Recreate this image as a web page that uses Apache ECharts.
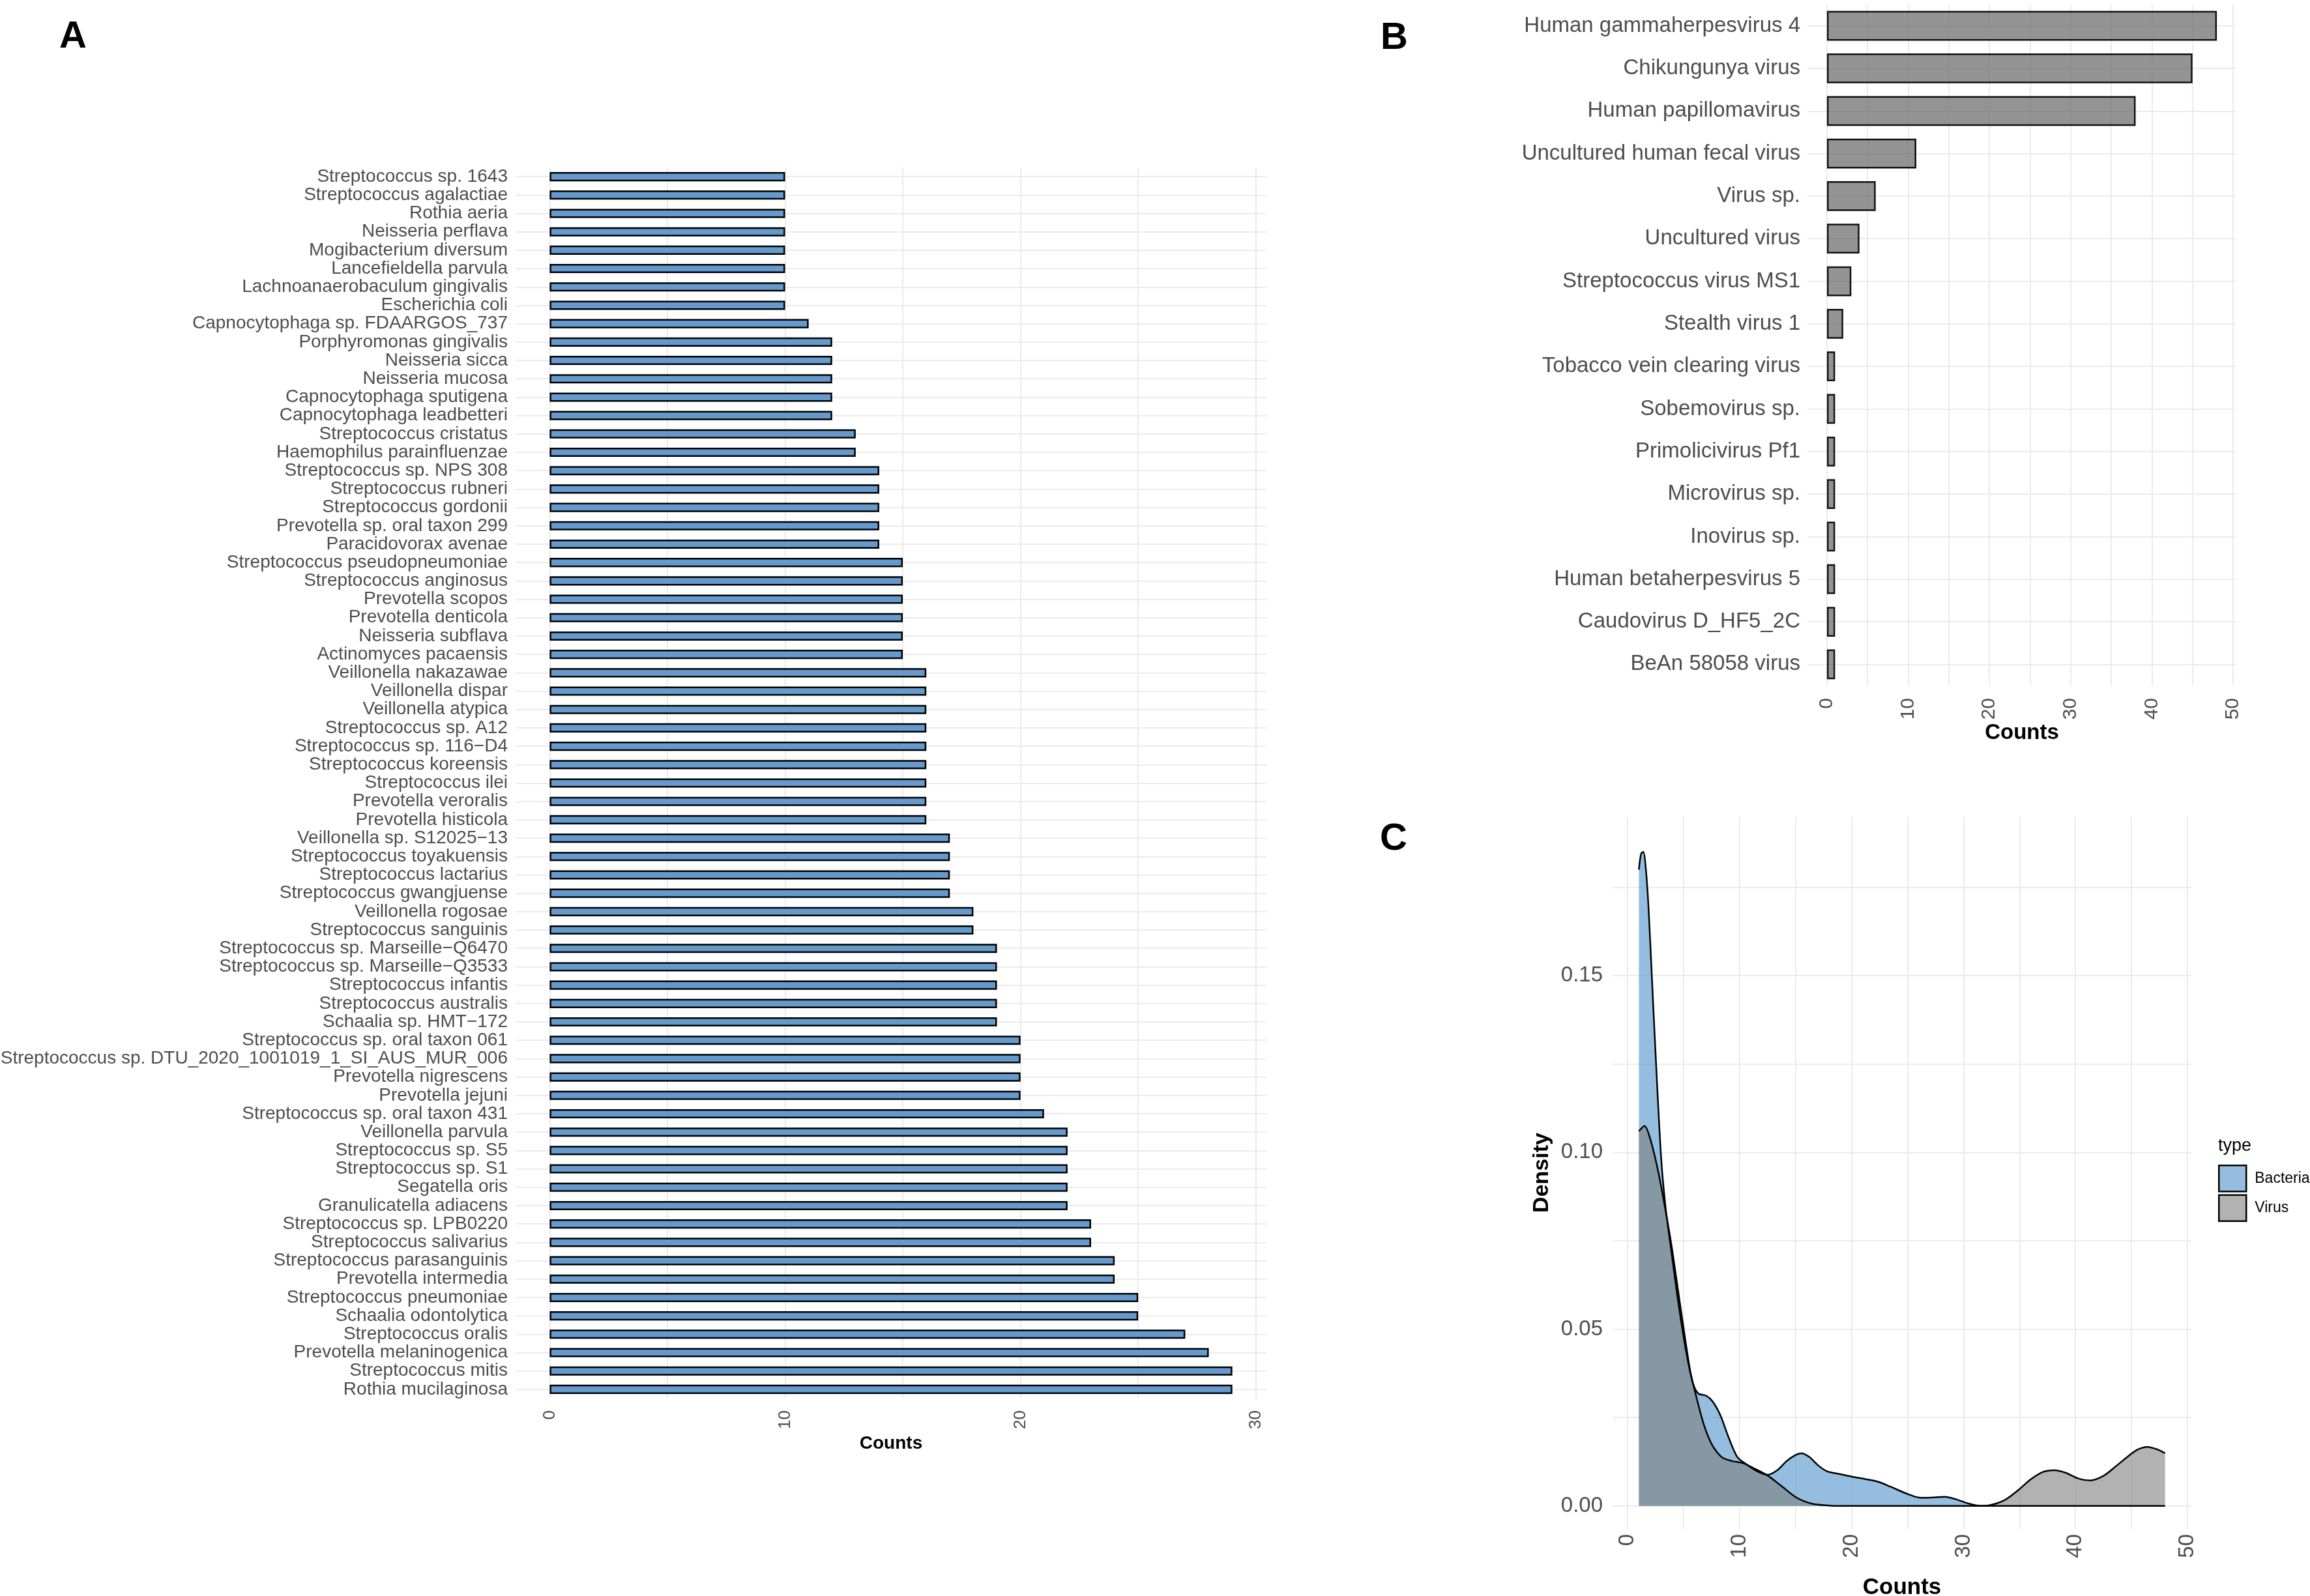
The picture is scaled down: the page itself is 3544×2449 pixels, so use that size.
<!DOCTYPE html>
<html>
<head>
<meta charset="utf-8">
<script src="https://cdn.jsdelivr.net/npm/echarts@6/dist/echarts.min.js"></script>
<style>
html,body{margin:0;padding:0;background:#fff;}
#chart{width:3544px;height:2449px;}
</style>
</head>
<body>
<div id="chart"></div>
<script>
// ---------- Panel A: bacteria counts ----------
const aNames = [
"Streptococcus sp. 1643","Streptococcus agalactiae","Rothia aeria","Neisseria perflava","Mogibacterium diversum",
"Lancefieldella parvula","Lachnoanaerobaculum gingivalis","Escherichia coli","Capnocytophaga sp. FDAARGOS_737",
"Porphyromonas gingivalis","Neisseria sicca","Neisseria mucosa","Capnocytophaga sputigena","Capnocytophaga leadbetteri",
"Streptococcus cristatus","Haemophilus parainfluenzae","Streptococcus sp. NPS 308","Streptococcus rubneri",
"Streptococcus gordonii","Prevotella sp. oral taxon 299","Paracidovorax avenae","Streptococcus pseudopneumoniae",
"Streptococcus anginosus","Prevotella scopos","Prevotella denticola","Neisseria subflava","Actinomyces pacaensis",
"Veillonella nakazawae","Veillonella dispar","Veillonella atypica","Streptococcus sp. A12","Streptococcus sp. 116\u2212D4",
"Streptococcus koreensis","Streptococcus ilei","Prevotella veroralis","Prevotella histicola","Veillonella sp. S12025\u221213",
"Streptococcus toyakuensis","Streptococcus lactarius","Streptococcus gwangjuense","Veillonella rogosae",
"Streptococcus sanguinis","Streptococcus sp. Marseille\u2212Q6470","Streptococcus sp. Marseille\u2212Q3533",
"Streptococcus infantis","Streptococcus australis","Schaalia sp. HMT\u2212172","Streptococcus sp. oral taxon 061",
"Streptococcus sp. DTU_2020_1001019_1_SI_AUS_MUR_006","Prevotella nigrescens","Prevotella jejuni",
"Streptococcus sp. oral taxon 431","Veillonella parvula","Streptococcus sp. S5","Streptococcus sp. S1","Segatella oris",
"Granulicatella adiacens","Streptococcus sp. LPB0220","Streptococcus salivarius","Streptococcus parasanguinis",
"Prevotella intermedia","Streptococcus pneumoniae","Schaalia odontolytica","Streptococcus oralis",
"Prevotella melaninogenica","Streptococcus mitis","Rothia mucilaginosa"
];
const aValues = [
10,10,10,10,10,10,10,10,11,
12,12,12,12,12,
13,13,14,14,14,14,14,
15,15,15,15,15,15,
16,16,16,16,16,16,16,16,16,
17,17,17,17,18,18,
19,19,19,19,19,
20,20,20,20,21,
22,22,22,22,22,
23,23,24,24,25,25,27,28,29,29
];
const aTicks = [0,10,20,30];
const aGridLines = [0,5,10,15,20,25,30];

// ---------- Panel B: virus counts ----------
const bNames = [
"Human gammaherpesvirus 4","Chikungunya virus","Human papillomavirus","Uncultured human fecal virus",
"Virus sp.","Uncultured virus","Streptococcus virus MS1","Stealth virus 1","Tobacco vein clearing virus",
"Sobemovirus sp.","Primolicivirus Pf1","Microvirus sp.","Inovirus sp.","Human betaherpesvirus 5",
"Caudovirus D_HF5_2C","BeAn 58058 virus"
];
const bValues = [48,45,38,11,6,4,3,2,1,1,1,1,1,1,1,1];
const bTicks = [0,10,20,30,40,50];
const bGridLines = [0,5,10,15,20,25,30,35,40,45,50];

// ---------- Panel C: density curves ----------
const cBacteria = [
[1.0,0.180],[1.2,0.1845],[1.4,0.185],[1.6,0.181],[1.85,0.170],[2.2,0.147],[2.6,0.121],[3.0,0.098],
[3.4,0.084],[3.9,0.072],[4.5,0.058],[5.2,0.044],[5.8,0.035],[6.3,0.0318],[7.0,0.0312],[7.6,0.0295],
[8.3,0.0255],[9.0,0.0195],[9.8,0.0138],[10.6,0.0118],[11.5,0.0099],[12.5,0.0088],[13.4,0.0102],
[14.2,0.0127],[15.0,0.0144],[15.5,0.0149],[16.2,0.0139],[17.0,0.0115],[17.8,0.0098],[18.8,0.0091],
[20.0,0.0083],[21.2,0.0076],[22.3,0.0069],[23.5,0.0054],[24.9,0.0035],[26.2,0.0023],[27.4,0.0024],
[28.3,0.0026],[29.2,0.0020],[30.3,0.0008],[31.3,0.0001],[32.2,0],[36,0],[40,0],[44,0],[48,0]
];
const cVirus = [
[1.0,0.106],[1.5,0.1075],[2.0,0.104],[2.7,0.095],[3.3,0.085],[3.9,0.074],[4.5,0.061],[5.1,0.048],
[5.6,0.038],[6.2,0.030],[6.8,0.023],[7.5,0.0175],[8.4,0.0138],[9.3,0.0127],[10.3,0.0121],[11.3,0.0106],
[12.5,0.0086],[13.7,0.0057],[15.1,0.0023],[16.5,0.0006],[18.0,0.0001],[19.0,0],[24,0],[28,0],[31.2,0],
[32.3,0.0002],[33.7,0.0017],[34.9,0.0045],[36.0,0.0075],[37.1,0.0096],[38.1,0.0101],[39.1,0.0094],
[40.2,0.0078],[41.3,0.0072],[42.5,0.0085],[43.6,0.0112],[44.8,0.0143],[45.6,0.0160],[46.4,0.0167],
[47.3,0.0160],[48.0,0.0149]
];
const cXTicks = [0,10,20,30,40,50];
const cXGridLines = [0,5,10,15,20,25,30,35,40,45,50];
const cYTicks = [0,0.05,0.10,0.15];
const cYGridLines = [0,0.025,0.05,0.075,0.10,0.125,0.15,0.175];

const FONT = "'Liberation Sans', Arial, Helvetica, sans-serif";
const GRID = '#EBEBEB';
const TICK = '#4D4D4D';
const bactFill = 'rgba(77,145,202,0.6)';
const virFill = 'rgba(127,127,127,0.6)';

const chart = echarts.init(document.getElementById('chart'), null, {renderer:'canvas'});

const option = {
  animation: false,
  backgroundColor: '#fff',
  textStyle: {fontFamily: FONT},
  grid: [
    {left: 791, top: 257, width: 1152, height: 1889, outerBoundsMode: 'none', containLabel: false},
    {left: 2773, top: 7, width: 658, height: 1045, outerBoundsMode: 'none', containLabel: false},
    {left: 2474, top: 1253, width: 888, height: 1093, outerBoundsMode: 'none', containLabel: false}
  ],
  xAxis: [
    {
      gridIndex: 0, type: 'value', min: -1.45, max: 30.45,
      axisLine: {show: false},
      axisTick: {show: false, customValues: aGridLines},
      axisLabel: {customValues: aTicks, rotate: 90, fontSize: 26, color: TICK, margin: 18, fontFamily: FONT},
      splitLine: {show: true, lineStyle: {color: GRID, width: 2}},
      name: 'Counts', nameLocation: 'middle', nameGap: 48,
      nameTextStyle: {fontSize: 28, fontWeight: 'bold', color: '#000', fontFamily: FONT}
    },
    {
      gridIndex: 1, type: 'value', min: -2.4, max: 50.4,
      axisLine: {show: false},
      axisTick: {show: false, customValues: bGridLines},
      axisLabel: {customValues: bTicks, rotate: 90, fontSize: 30, color: TICK, margin: 19, fontFamily: FONT},
      splitLine: {show: true, lineStyle: {color: GRID, width: 2}},
      name: 'Counts', nameLocation: 'middle', nameGap: 55,
      nameTextStyle: {fontSize: 33, fontWeight: 'bold', color: '#000', fontFamily: FONT}
    },
    {
      gridIndex: 2, type: 'value', min: -1.35, max: 50.35,
      axisLine: {show: false},
      axisTick: {show: false, customValues: cXGridLines},
      axisLabel: {customValues: cXTicks, rotate: 90, fontSize: 33, color: TICK, margin: 8, fontFamily: FONT},
      splitLine: {show: true, lineStyle: {color: GRID, width: 2}},
      name: 'Counts', nameLocation: 'middle', nameGap: 73,
      nameTextStyle: {fontSize: 35, fontWeight: 'bold', color: '#000', fontFamily: FONT}
    }
  ],
  yAxis: [
    {
      gridIndex: 0, type: 'category', data: aNames, inverse: true,
      axisLine: {show: false}, axisTick: {show: false},
      axisLabel: {interval: 0, fontSize: 28, color: TICK, margin: 12, fontFamily: FONT},
      splitLine: {show: true, interval: 0, alignWithLabel: true, lineStyle: {color: GRID, width: 2}}
    },
    {
      gridIndex: 1, type: 'category', data: bNames, inverse: true,
      axisLine: {show: false}, axisTick: {show: false},
      axisLabel: {interval: 0, fontSize: 33, color: TICK, margin: 11, fontFamily: FONT},
      splitLine: {show: true, interval: 0, alignWithLabel: true, lineStyle: {color: GRID, width: 2}}
    },
    {
      gridIndex: 2, type: 'value', min: -0.0065, max: 0.195,
      axisLine: {show: false},
      axisTick: {show: false, customValues: cYGridLines},
      axisLabel: {customValues: cYTicks, fontSize: 33, color: TICK, margin: 15, fontFamily: FONT,
                  formatter: v => v.toFixed(2)},
      splitLine: {show: true, lineStyle: {color: GRID, width: 2}},
      name: 'Density', nameLocation: 'middle', nameGap: 91,
      nameTextStyle: {fontSize: 34, fontWeight: 'bold', color: '#000', fontFamily: FONT}
    }
  ],
  legend: {
    data: [
      {name: 'Bacteria', icon: 'rect', itemStyle: {color: bactFill, borderColor: '#000', borderWidth: 2.5}},
      {name: 'Virus', icon: 'rect', itemStyle: {color: virFill, borderColor: '#000', borderWidth: 2.5}}
    ],
    orient: 'vertical', left: 3403, top: 1787, itemWidth: 42, itemHeight: 40, itemGap: 3,
    padding: 0, selectedMode: false,
    textStyle: {fontSize: 23, color: '#000', fontFamily: FONT, padding: [0, 0, 0, 8]}
  },
  graphic: [
    {type: 'text', x: 112, y: 57, style: {text: 'A', fontSize: 58, fontWeight: 'bold', fontFamily: FONT, fill: '#000', align: 'center', verticalAlign: 'middle'}},
    {type: 'text', x: 2139, y: 59, style: {text: 'B', fontSize: 58, fontWeight: 'bold', fontFamily: FONT, fill: '#000', align: 'center', verticalAlign: 'middle'}},
    {type: 'text', x: 2138, y: 1288, style: {text: 'C', fontSize: 58, fontWeight: 'bold', fontFamily: FONT, fill: '#000', align: 'center', verticalAlign: 'middle'}},
    {type: 'text', x: 3403, y: 1759, style: {text: 'type', fontSize: 27, fontFamily: FONT, fill: '#000', align: 'left', verticalAlign: 'middle'}}
  ],
  series: [
    {
      type: 'bar', name: 'A', xAxisIndex: 0, yAxisIndex: 0, data: aValues, barWidth: '50%',
      itemStyle: {color: '#6699CC', borderColor: '#000', borderWidth: 2.5}, silent: true
    },
    {
      type: 'bar', name: 'B', xAxisIndex: 1, yAxisIndex: 1, data: bValues, barWidth: '70%',
      itemStyle: {color: 'rgba(102,102,102,0.7)', borderColor: '#111', borderWidth: 2.5}, silent: true
    },
    {
      type: 'line', name: 'Bacteria', xAxisIndex: 2, yAxisIndex: 2, data: cBacteria,
      symbol: 'none', smooth: 0.3, color: bactFill,
      lineStyle: {color: '#000', width: 2.5},
      areaStyle: {color: bactFill, opacity: 1}, silent: true
    },
    {
      type: 'line', name: 'Virus', xAxisIndex: 2, yAxisIndex: 2, data: cVirus,
      symbol: 'none', smooth: 0.3, color: virFill,
      lineStyle: {color: '#000', width: 2.5},
      areaStyle: {color: virFill, opacity: 1}, silent: true
    }
  ]
};
chart.setOption(option);
</script>
</body>
</html>
